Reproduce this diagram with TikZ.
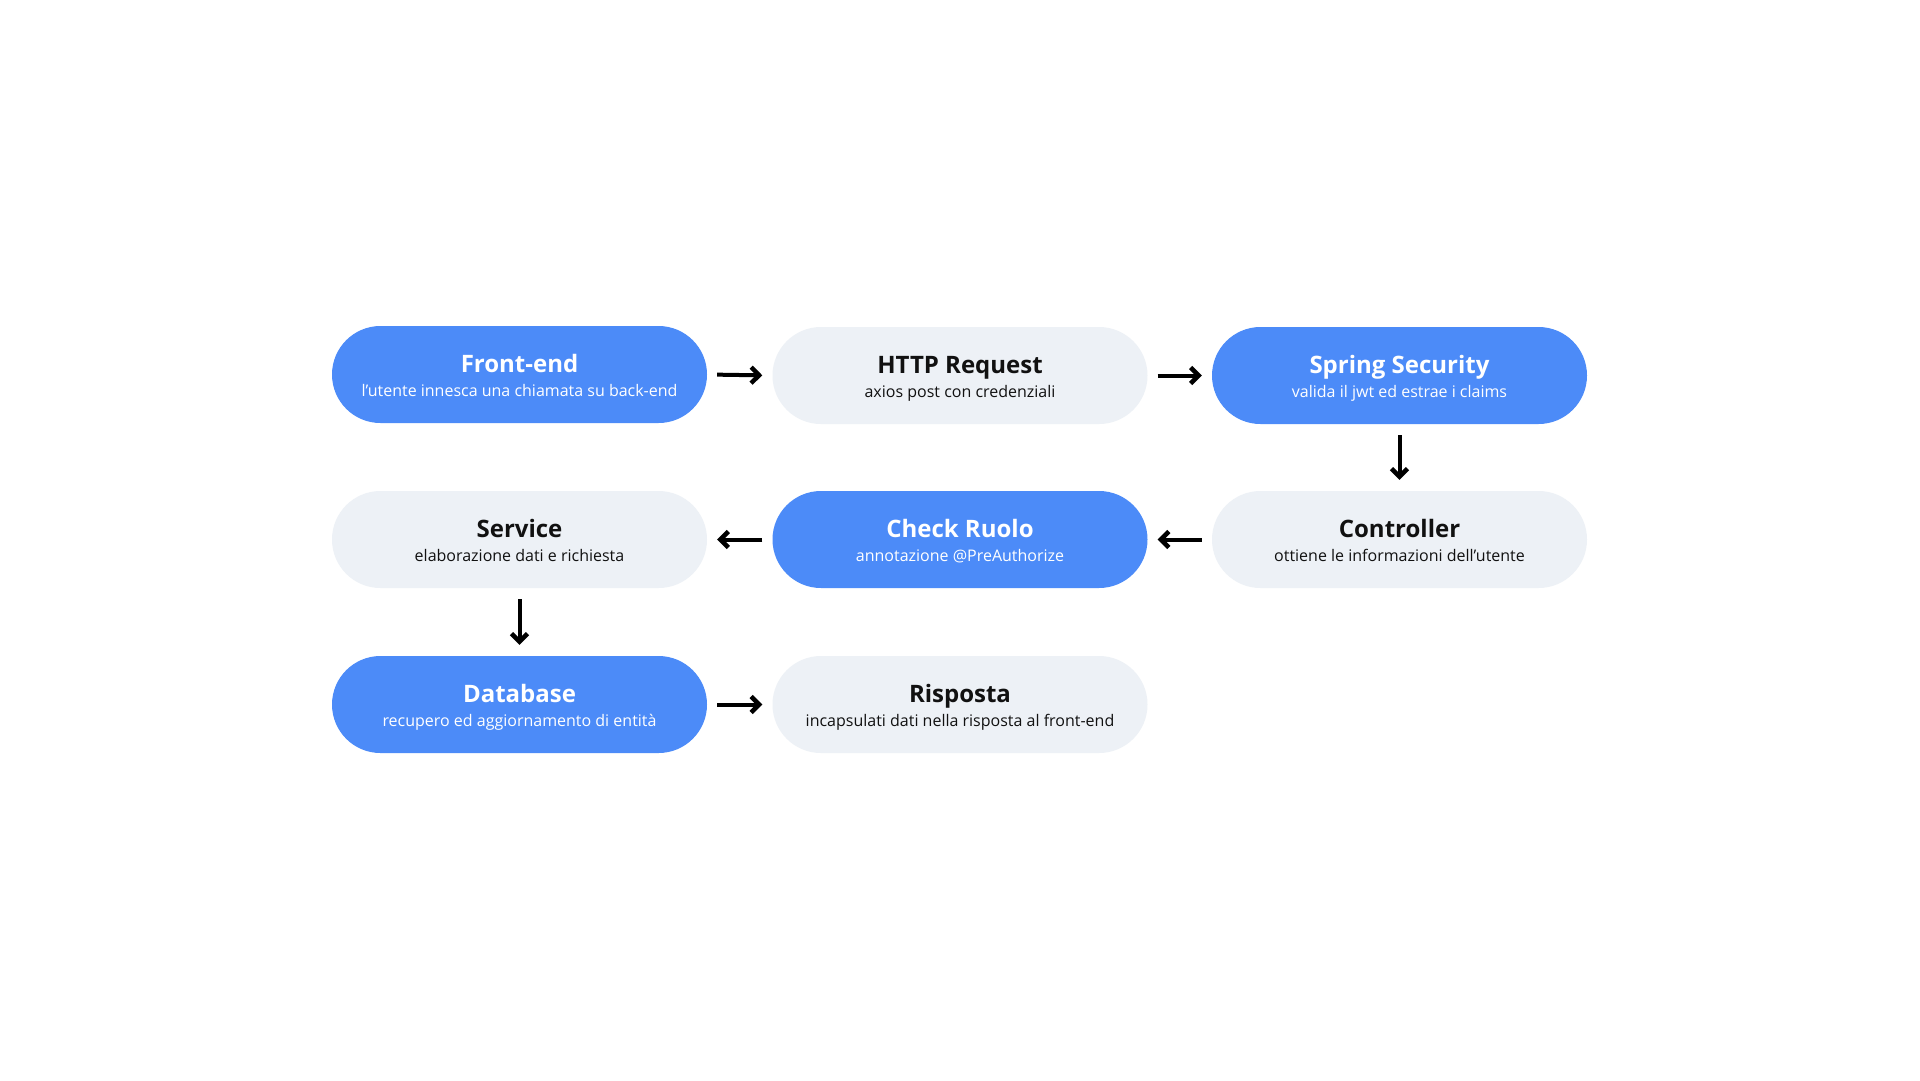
\documentclass[tikz,border=0pt]{standalone}
\usepackage{fontspec}
\setmainfont{Open Sans}
\usetikzlibrary{arrows.meta}
\definecolor{pblue}{RGB}{76,139,248}
\definecolor{pgray}{RGB}{237,241,246}
\definecolor{ink}{RGB}{17,17,17}
\tikzset{
  pill/.style={minimum width=375pt, minimum height=97pt, rounded corners=48.5pt, inner sep=0pt, draw=none},
  bluepill/.style={pill, fill=pblue},
  graypill/.style={pill, fill=pgray},
  ttl/.style={anchor=base, inner sep=0pt, font=\fontsize{24}{29}\selectfont\bfseries},
  sub/.style={anchor=base, inner sep=0pt, font=\fontsize{16}{20}\selectfont},
  onblue/.style={text=white},
  ongray/.style={text=ink},
  flow/.style={line width=4pt, -{Straight Barb[length=8pt, width=16pt, line width=4.5pt]}, draw=black},
}
\begin{document}
\begin{tikzpicture}[x=1pt, y=-1pt]
\useasboundingbox (0,0) rectangle (1920,1080);
\fill[white] (0,0) rectangle (1920,1080);
% row 1
\node[bluepill] (fe) at (519.5,374.5) {};
\node[ttl,onblue] (fet) at (519.5,372.5) {Front-end};
\node[sub,onblue] (fes) at (519.5,396.5) {l’utente innesca una chiamata su back-end};
\node[graypill] (http) at (960,375.5) {};
\node[ttl,ongray] (httpt) at (960,373.5) {HTTP Request};
\node[sub,ongray] (https) at (960,397.5) {axios post con credenziali};
\node[bluepill] (sec) at (1399.5,375.5) {};
\node[ttl,onblue] (sect) at (1399.5,373.5) {Spring Security};
\node[sub,onblue] (secs) at (1399.5,397.5) {valida il jwt ed estrae i claims};
% row 2
\node[graypill] (srv) at (519.5,539.5) {};
\node[ttl,ongray] (srvt) at (519.5,537.5) {Service};
\node[sub,ongray] (srvs) at (519.5,561.5) {elaborazione dati e richiesta};
\node[bluepill] (chk) at (960,539.5) {};
\node[ttl,onblue] (chkt) at (960,537.5) {Check Ruolo};
\node[sub,onblue] (chks) at (960,561.5) {annotazione @PreAuthorize};
\node[graypill] (ctl) at (1399.5,539.5) {};
\node[ttl,ongray] (ctlt) at (1399.5,537.5) {Controller};
\node[sub,ongray] (ctls) at (1399.5,561.5) {ottiene le informazioni dell’utente};
% row 3
\node[bluepill] (db) at (519.5,704.5) {};
\node[ttl,onblue] (dbt) at (519.5,702.5) {Database};
\node[sub,onblue] (dbs) at (519.5,726.5) {recupero ed aggiornamento di entità};
\node[graypill] (rsp) at (960,704.5) {};
\node[ttl,ongray] (rspt) at (960,702.5) {Risposta};
\node[sub,ongray] (rsps) at (960,726.5) {incapsulati dati nella risposta al front-end};
% connectors
\draw[flow, shorten <=10pt, shorten >=10pt] (fe.east) -- (http.west);
\draw[flow, shorten <=10pt, shorten >=10pt] (http.east) -- (sec.west);
\draw[flow, shorten <=11pt, shorten >=11pt] (sec.south) -- (ctl.north);
\draw[flow, shorten <=10pt, shorten >=10pt] (ctl.west) -- (chk.east);
\draw[flow, shorten <=10pt, shorten >=10pt] (chk.west) -- (srv.east);
\draw[flow, shorten <=11pt, shorten >=11pt] (srv.south) -- (db.north);
\draw[flow, shorten <=10pt, shorten >=10pt] (db.east) -- (rsp.west);
\end{tikzpicture}
\end{document}
